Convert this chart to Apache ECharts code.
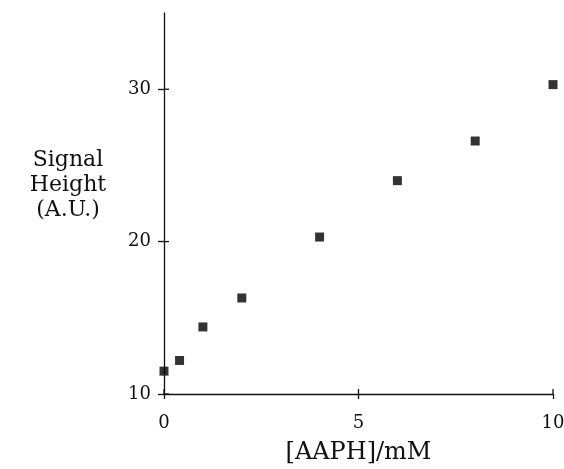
<!DOCTYPE html>
<html>
<head>
<meta charset="utf-8">
<script src="https://cdn.jsdelivr.net/npm/echarts@6/dist/echarts.min.js"></script>
<style>html,body{margin:0;padding:0;background:#fff;}#c{width:564px;height:469px;}</style>
</head>
<body>
<div id="c"></div>
<script>
var aaph = [0, 0.4, 1, 2, 4, 6, 8, 10];
var signal = [11.5, 12.2, 14.4, 16.3, 20.3, 24.0, 26.6, 30.3];
var xTicks = [0, 5, 10];
var yTicks = [10, 20, 30];
var xName = '[AAPH]/mM';
var yName = 'Signal\nHeight\n(A.U.)';

var FONT = 'DejaVu Serif';
var INK = '#111';
var X_MIN = 0, X_MAX = 10, Y_MIN = 10, Y_MAX = 35;
var chart = echarts.init(document.getElementById('c'), null, {renderer: 'canvas'});
var data = aaph.map(function (x, i) { return [x, signal[i]]; });

// inner halves of the crossing tick marks, placed through the axes' own scales
var tickData = xTicks.map(function (v) { return [v, Y_MIN, 0]; })
  .concat(yTicks.map(function (v) { return [X_MIN, v, 1]; }));

chart.setOption({
  animation: false,
  grid: {left: 164, right: 11, top: 13, bottom: 75, containLabel: false, outerBoundsMode: 'none'},
  xAxis: {
    type: 'value', min: X_MIN, max: X_MAX,
    splitLine: {show: false},
    axisLine: {show: true, onZero: false, lineStyle: {color: INK, width: 1.3}},
    axisTick: {show: true, length: 5, customValues: xTicks, lineStyle: {color: INK, width: 1.3}},
    axisLabel: {customValues: xTicks, margin: 20, fontFamily: FONT, fontSize: 18, color: INK},
    name: xName, nameLocation: 'middle', nameGap: 47,
    nameTextStyle: {fontFamily: FONT, fontSize: 24, color: INK}
  },
  yAxis: {
    type: 'value', min: Y_MIN, max: Y_MAX,
    splitLine: {show: false},
    axisLine: {show: true, onZero: false, lineStyle: {color: INK, width: 1.3}},
    axisTick: {show: true, length: 6, customValues: yTicks, lineStyle: {color: INK, width: 1.3}},
    axisLabel: {customValues: yTicks, margin: 13, fontFamily: FONT, fontSize: 18, color: INK}
  },
  graphic: [{
    type: 'text',
    style: {
      text: yName, x: 68, y: 148, textAlign: 'center',
      font: '22px "DejaVu Serif"', lineHeight: 25, fill: INK
    }
  }],
  series: [{
    type: 'custom', silent: true, clip: false, z: 5,
    data: tickData,
    renderItem: function (params, api) {
      var p = api.coord([api.value(0), api.value(1)]);
      var vertical = api.value(2) === 0;
      var shape = vertical
        ? {x1: p[0], y1: p[1], x2: p[0], y2: p[1] - 5}
        : {x1: p[0], y1: p[1], x2: p[0] + 5, y2: p[1]};
      return {type: 'line', shape: shape, style: {stroke: INK, lineWidth: 1.3}};
    }
  }, {
    type: 'scatter',
    data: data, symbol: 'rect', symbolSize: 9,
    itemStyle: {color: '#000'}, z: 3
  }]
});
</script>
</body>
</html>
